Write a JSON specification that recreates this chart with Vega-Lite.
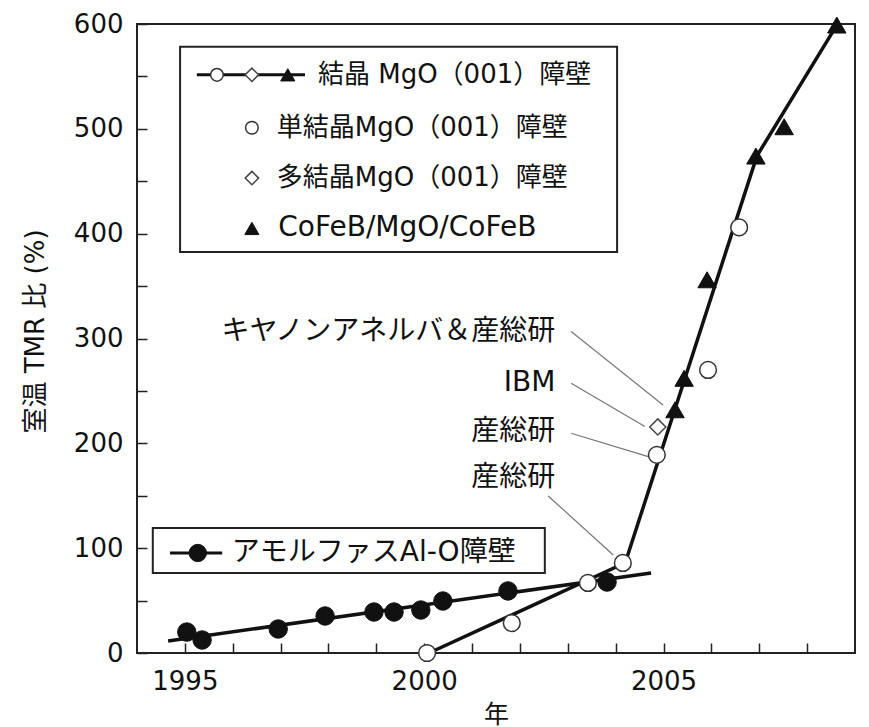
{
  "$schema": "https://vega.github.io/schema/vega-lite/v6.json",
  "width": 718,
  "height": 629,
  "autosize": "none",
  "padding": {"left": 137, "top": 24, "right": 14, "bottom": 74},
  "background": "white",
  "config": {
    "font": "DejaVu Sans, Noto Sans CJK JP",
    "view": {"stroke": "#222", "strokeWidth": 2},
    "axis": {
      "grid": false,
      "domain": false,
      "offset": -10,
      "tickColor": "#222",
      "tickWidth": 1.5,
      "tickSize": 10,
      "labelColor": "#111",
      "titleColor": "#111",
      "labelFont": "DejaVu Sans",
      "labelFontSize": 26,
      "titleFont": "DejaVu Sans, Noto Sans CJK JP",
      "titleFontWeight": "normal",
      "titleFontSize": 25
    }
  },
  "datasets": {
    "amorphous": [
      {"x": 1995.04, "y": 20},
      {"x": 1995.36, "y": 12.4},
      {"x": 1996.95, "y": 22.9},
      {"x": 1997.93, "y": 35.3},
      {"x": 1998.95, "y": 39.1},
      {"x": 1999.37, "y": 39.1},
      {"x": 1999.93, "y": 41},
      {"x": 2000.39, "y": 49.6},
      {"x": 2001.75, "y": 59.2},
      {"x": 2003.82, "y": 67.7}
    ],
    "single": [
      {"x": 2000.06, "y": 0},
      {"x": 2001.83, "y": 28.6},
      {"x": 2003.42, "y": 66.8},
      {"x": 2004.15, "y": 85.9},
      {"x": 2004.86, "y": 189},
      {"x": 2005.93, "y": 270},
      {"x": 2006.58, "y": 406}
    ],
    "poly": [
      {"x": 2004.88, "y": 215.6}
    ],
    "cofeb": [
      {"x": 2005.24, "y": 232},
      {"x": 2005.43, "y": 262},
      {"x": 2005.91, "y": 356},
      {"x": 2006.93, "y": 474},
      {"x": 2007.52, "y": 502},
      {"x": 2008.62, "y": 599}
    ],
    "amorFit": [
      {"x": 1994.65, "y": 11.5},
      {"x": 2004.74, "y": 76.3}
    ],
    "mgoFit": [
      {"x": 2000.1, "y": 0},
      {"x": 2004.2, "y": 86},
      {"x": 2006.95, "y": 474},
      {"x": 2008.62, "y": 599}
    ],
    "leaders": [
      {"x": 2003.07, "y": 306.6, "x2": 2004.99, "y2": 236.6},
      {"x": 2003.07, "y": 257.3, "x2": 2004.61, "y2": 216},
      {"x": 2003.07, "y": 209.6, "x2": 2004.68, "y2": 187.3},
      {"x": 2002.59, "y": 149.8, "x2": 2003.95, "y2": 93.5}
    ],
    "labels": [
      {"x": 2002.74, "y": 306.6, "text": "キヤノンアネルバ＆産総研"},
      {"x": 2002.74, "y": 257.3, "text": "IBM"},
      {"x": 2002.74, "y": 211.2, "text": "産総研"},
      {"x": 2002.74, "y": 166.7, "text": "産総研"}
    ],
    "legendBoxes": [
      {"x": 1994.9, "x2": 2004.03, "y": 578.2, "y2": 382.6},
      {"x": 1994.33, "x2": 2002.52, "y": 119.3, "y2": 76.3}
    ],
    "legendLines": [
      {"x": 1995.25, "x2": 1997.51, "y": 551.5},
      {"x": 1994.69, "x2": 1995.78, "y": 95.4}
    ],
    "legendOpen": [
      {"x": 1995.67, "y": 551.5},
      {"x": 1996.4, "y": 501}
    ],
    "legendDiamond": [
      {"x": 1996.4, "y": 551.5},
      {"x": 1996.4, "y": 453}
    ],
    "legendTri": [
      {"x": 1997.15, "y": 551.5},
      {"x": 1996.4, "y": 405}
    ],
    "legendFilled": [
      {"x": 1995.27, "y": 95.4}
    ],
    "legendTextA": [
      {"x": 1997.78, "y": 551.5, "text": "結晶 MgO（001）障壁"},
      {"x": 1996.92, "y": 501, "text": "単結晶MgO（001）障壁"},
      {"x": 1996.92, "y": 453, "text": "多結晶MgO（001）障壁"}
    ],
    "legendTextB": [
      {"x": 1996.95, "y": 405, "text": "CoFeB/MgO/CoFeB"},
      {"x": 1995.98, "y": 95.4, "text": "アモルファスAl-O障壁"}
    ]
  },
  "encoding": {
    "x": {
      "field": "x",
      "type": "quantitative",
      "scale": {"domain": [1994, 2009], "nice": false, "zero": false},
      "axis": {
        "title": "年",
        "values": [1995, 1996, 1997, 1998, 1999, 2000, 2001, 2002, 2003, 2004, 2005, 2006, 2007, 2008],
        "format": "d",
        "labelExpr": "datum.value % 5 == 0 ? datum.label : ''",
        "labelPadding": 15,
        "titlePadding": 8
      }
    },
    "y": {
      "field": "y",
      "type": "quantitative",
      "scale": {"domain": [0, 600], "nice": false},
      "axis": {
        "title": "室温 TMR 比 (%)",
        "values": [0, 50, 100, 150, 200, 250, 300, 350, 400, 450, 500, 550, 600],
        "labelExpr": "datum.value % 100 == 0 ? datum.label : ''",
        "labelPadding": 14,
        "titlePadding": 25,
        "titleFontSize": 26,
        "titleY": 307
      }
    }
  },
  "layer": [
    {
      "data": {"name": "legendBoxes"},
      "mark": {"type": "rect", "fill": "white", "stroke": "#222", "strokeWidth": 2},
      "encoding": {"x2": {"field": "x2"}, "y2": {"field": "y2"}}
    },
    {
      "data": {"name": "leaders"},
      "mark": {"type": "rule", "color": "#777", "strokeWidth": 1.2},
      "encoding": {"x2": {"field": "x2"}, "y2": {"field": "y2"}}
    },
    {
      "data": {"name": "amorFit"},
      "mark": {"type": "line", "color": "#111", "strokeWidth": 3.5}
    },
    {
      "data": {"name": "mgoFit"},
      "mark": {"type": "line", "color": "#111", "strokeWidth": 3.5}
    },
    {
      "data": {"name": "legendLines"},
      "mark": {"type": "rule", "color": "#111", "strokeWidth": 3},
      "encoding": {"x2": {"field": "x2"}}
    },
    {
      "data": {"name": "amorphous"},
      "mark": {"type": "point", "shape": "circle", "filled": true, "fill": "#111", "stroke": "#111", "strokeWidth": 1, "size": 340, "opacity": 1}
    },
    {
      "data": {"name": "single"},
      "mark": {"type": "point", "shape": "circle", "filled": true, "fill": "white", "stroke": "#333", "strokeWidth": 1.5, "size": 280, "opacity": 1}
    },
    {
      "data": {"name": "poly"},
      "mark": {"type": "point", "shape": "diamond", "filled": true, "fill": "white", "stroke": "#444", "strokeWidth": 1.5, "size": 260, "opacity": 1}
    },
    {
      "data": {"name": "cofeb"},
      "mark": {"type": "point", "shape": "triangle-up", "filled": true, "fill": "#111", "stroke": "#111", "strokeWidth": 1, "size": 340, "opacity": 1}
    },
    {
      "data": {"name": "legendOpen"},
      "mark": {"type": "point", "shape": "circle", "filled": true, "fill": "white", "stroke": "#333", "strokeWidth": 1.5, "size": 160, "opacity": 1}
    },
    {
      "data": {"name": "legendDiamond"},
      "mark": {"type": "point", "shape": "diamond", "filled": true, "fill": "white", "stroke": "#444", "strokeWidth": 1.5, "size": 180, "opacity": 1}
    },
    {
      "data": {"name": "legendTri"},
      "mark": {"type": "point", "shape": "triangle-up", "filled": true, "fill": "#111", "stroke": "#111", "strokeWidth": 1, "size": 200, "opacity": 1}
    },
    {
      "data": {"name": "legendFilled"},
      "mark": {"type": "point", "shape": "circle", "filled": true, "fill": "#111", "stroke": "#111", "strokeWidth": 1, "size": 300, "opacity": 1}
    },
    {
      "data": {"name": "legendTextA"},
      "mark": {"type": "text", "align": "left", "baseline": "middle", "fontSize": 26, "color": "#111"},
      "encoding": {"text": {"field": "text"}}
    },
    {
      "data": {"name": "legendTextB"},
      "mark": {"type": "text", "align": "left", "baseline": "middle", "fontSize": 28, "color": "#111"},
      "encoding": {"text": {"field": "text"}}
    },
    {
      "data": {"name": "labels"},
      "mark": {"type": "text", "align": "right", "baseline": "middle", "fontSize": 28, "color": "#111"},
      "encoding": {"text": {"field": "text"}}
    }
  ]
}
